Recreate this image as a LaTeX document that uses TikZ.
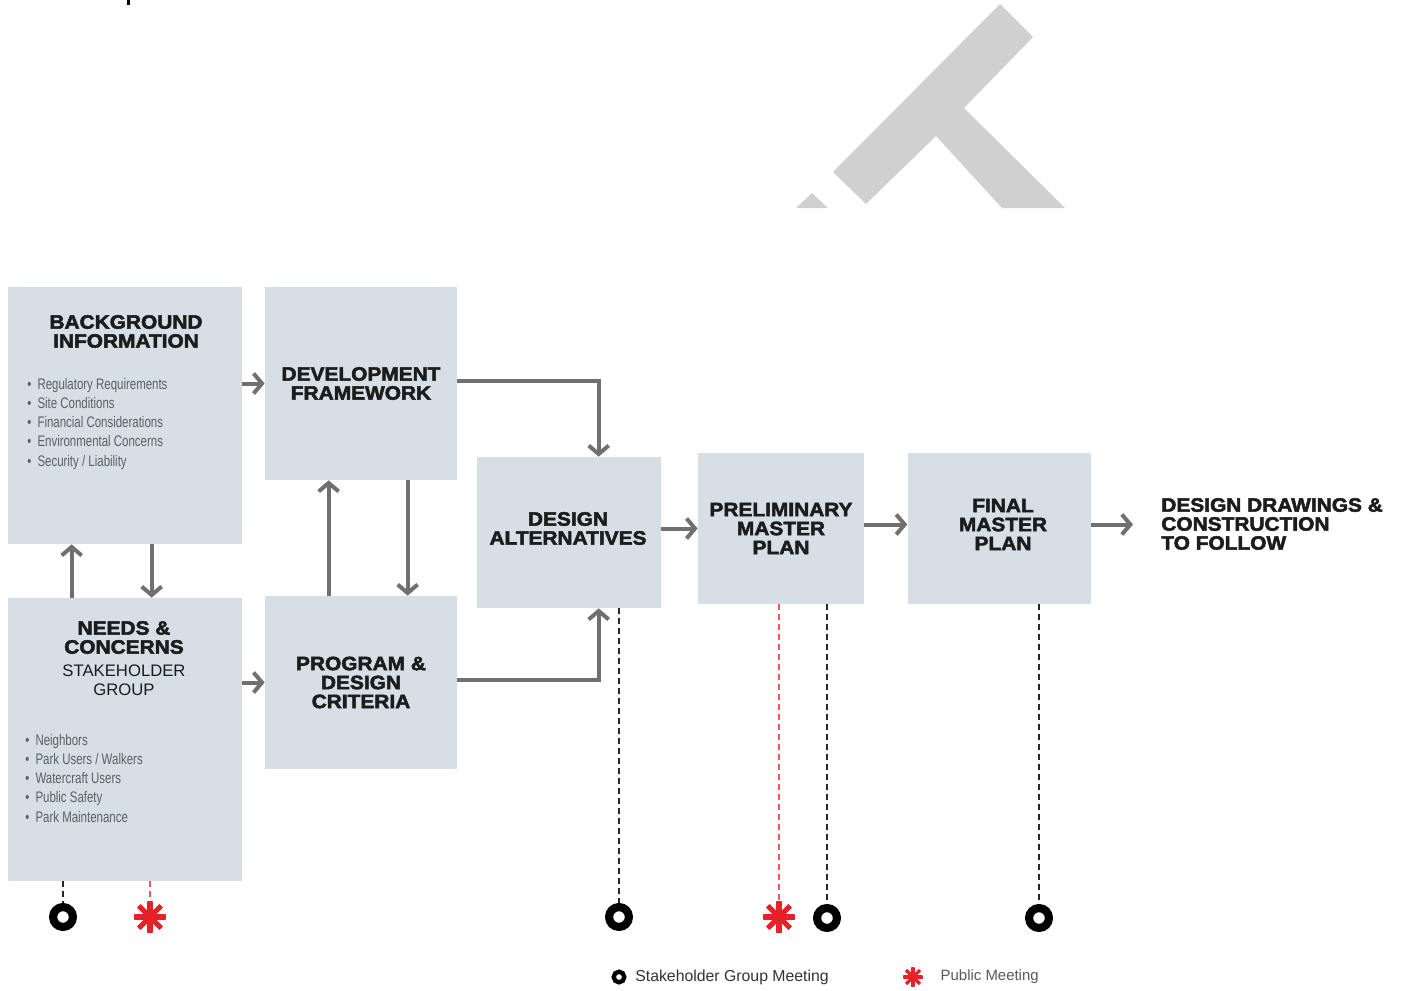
\documentclass[tikz,border=0pt]{standalone}
\usepackage{fontspec}
\setmainfont{Liberation Sans}
\newfontfamily\heavyfont[FakeBold=2.6,FakeStretch=1.08]{Liberation Sans Bold}
\newfontfamily\narrowfont[FakeStretch=0.75]{Liberation Sans}
\usepackage{tikz}
\usetikzlibrary{arrows.meta, calc, positioning}
\definecolor{boxblue}{RGB}{214,222,230}
\definecolor{flowgray}{RGB}{112,112,112}
\definecolor{pubred}{RGB}{232,32,40}
\definecolor{headink}{RGB}{28,28,28}
\definecolor{listink}{RGB}{95,95,95}
\definecolor{markgray}{RGB}{208,208,208}
\newcommand{\itm}{\textbullet\hspace{3.5pt}}
\tikzstyle{stage}=[rectangle, fill=boxblue, inner sep=0pt, align=center, text=headink, font=\heavyfont\fontsize{11}{10.8}\selectfont]
\tikzstyle{head}=[inner sep=0pt, align=center, text=headink, font=\heavyfont\fontsize{11}{10.8}\selectfont]
\tikzstyle{sub}=[inner sep=0pt, align=center, text=headink, font=\fontsize{9.5}{10.8}\selectfont]
\tikzstyle{items}=[inner sep=0pt, align=left, text=listink, font=\narrowfont\fontsize{8.7}{10.9}\selectfont]
\tikzstyle{key}=[inner sep=0pt, text=black!80, font=\fontsize{9}{10}\selectfont]
\tikzstyle{flow}=[draw=flowgray, line width=0.08cm, ->]
\tikzstyle{meetline}=[draw=black!85, line width=0.04cm, dash pattern=on 0.12cm off 0.08cm]
\tikzstyle{publine}=[meetline, draw=pubred!75, line width=0.035cm]
\tikzset{
  meeting/.style={circle, draw=black, inner sep=0pt, minimum size=1.42*#1, line width=0.58*#1},
  meeting/.default=0.28cm,
  public/.style={circle, inner sep=0pt, minimum size=2*#1,
    path picture={\foreach \a in {0,45,90,135}
      \draw[pubred, line width=0.32*#1] (path picture bounding box.center) ++(\a:#1) -- ++(\a+180:2*#1);}},
  public/.default=0.32cm
}
\begin{document}
\begin{tikzpicture}[x=0.02cm, y=-0.02cm, >={Straight Barb[length=0.17cm, width=0.4cm]}]
  \useasboundingbox (0,0) rectangle (1402,990);
  \fill[markgray] (1000,4) -- (1033,37) -- (964,108) -- (1065,208) -- (1002,208)
        -- (936,136) -- (866,204) -- (833,172) -- cycle;
  \fill[markgray] (812,193) -- (828,208) -- (796,208) -- cycle;
  \fill[black] (127,0) rectangle (129.5,5);

  \node[stage, minimum width=4.68cm, minimum height=5.14cm] (bg) at (125,415.5) {};
  \node[stage, minimum width=4.68cm, minimum height=5.66cm] (nc) at (125,739.5) {};
  \node[stage, minimum width=3.84cm, minimum height=3.86cm] (df) at (361,383.5) {DEVELOPMENT\\FRAMEWORK};
  \node[stage, minimum width=3.84cm, minimum height=3.46cm] (pd) at (361,682.5) {PROGRAM \&\\DESIGN\\CRITERIA};
  \node[stage, minimum width=3.68cm, minimum height=3.02cm] (da) at (569,532.5) {};
  \node[stage, minimum width=3.32cm, minimum height=3.02cm] (pmp) at (781,528.5) {PRELIMINARY\\MASTER\\PLAN};
  \node[stage, minimum width=3.66cm, minimum height=3.02cm] (fmp) [right=0.86cm of pmp] {};
  \node[head] (datitle) at (568,528.5) {DESIGN\\ALTERNATIVES};
  \node[head] (fmptitle) at (1003,524.5) {FINAL\\MASTER\\PLAN};
  \node[head, align=left] (next) [right=1.4cm of fmp, yshift=0.09cm] {DESIGN DRAWINGS \&\\CONSTRUCTION\\TO FOLLOW};

  \node[head] (bgtitle) at (126,331.5) {BACKGROUND\\INFORMATION};
  \node[items, anchor=north west] (bglist) at (27,378) {\itm Regulatory Requirements\\
    \itm Site Conditions\\ \itm Financial Considerations\\
    \itm Environmental Concerns\\ \itm Security / Liability};
  \node[head] (nctitle) at (124,637.5) {NEEDS \&\\CONCERNS};
  \node[sub] (ncsub) at (124,680.5) {STAKEHOLDER\\GROUP};
  \node[items, anchor=north west] (nclist) at (25,734) {\itm Neighbors\\
    \itm Park Users / Walkers\\ \itm Watercraft Users\\
    \itm Public Safety\\ \itm Park Maintenance};

  \draw[flow] (bg.east |- df.west) -- (df.west);
  \draw[flow] (nc.east |- pd.west) -- (pd.west);
  \draw[flow] ($(nc.north west)+(64,0)$) -- ($(bg.south west)+(64,0)$);
  \draw[flow] ($(bg.south west)+(144,0)$) -- ($(nc.north west)+(144,0)$);
  \draw[flow] ($(pd.north west)+(64,0)$) -- ($(df.south west)+(64,0)$);
  \draw[flow] ($(df.south west)+(143,0)$) -- ($(pd.north west)+(143,0)$);
  \draw[flow] ($(df.east)+(0,-3)$) -| ($(da.north west)+(122,0)$);
  \draw[flow] ($(pd.east)+(0,-3)$) -| ($(da.south west)+(122,0)$);
  \draw[flow] (da.east |- pmp.west) -- (pmp.west);
  \draw[flow] ($(pmp.east)+(0,-4)$) -- ($(fmp.west)+(0,-4)$);
  \draw[flow] ($(fmp.east)+(0,-4)$) -- ($(fmp.east)+(42,-4)$);

  \node[meeting] (sg1) at (63,917) {};
  \node[public] (pm1) at (150,917) {};
  \node[meeting] (sg2) at (619,917) {};
  \node[public] (pm2) at (779,917) {};
  \node[meeting] (sg3) at (827,918) {};
  \node[meeting] (sg4) at (1039,918) {};
  \draw[meetline] (nc.south -| sg1) -- (sg1);
  \draw[publine] (nc.south -| pm1) -- (pm1);
  \draw[meetline] (da.south -| sg2) -- (sg2);
  \draw[publine] (pmp.south -| pm2) -- (pm2);
  \draw[meetline] (pmp.south -| sg3) -- (sg3);
  \draw[meetline] (fmp.south -| sg4) -- (sg4);

  \node[meeting=0.15cm] (keysg) at (619,977) {};
  \node[key, right=0.17cm of keysg] (keysgtext) {Stakeholder Group Meeting};
  \node[public=0.2cm] (keypm) at (913,977) {};
  \node[key, text=black!65, font=\fontsize{8.5}{10}\selectfont, right=0.34cm of keypm] (keypmtext) {Public Meeting};
\end{tikzpicture}
\end{document}
